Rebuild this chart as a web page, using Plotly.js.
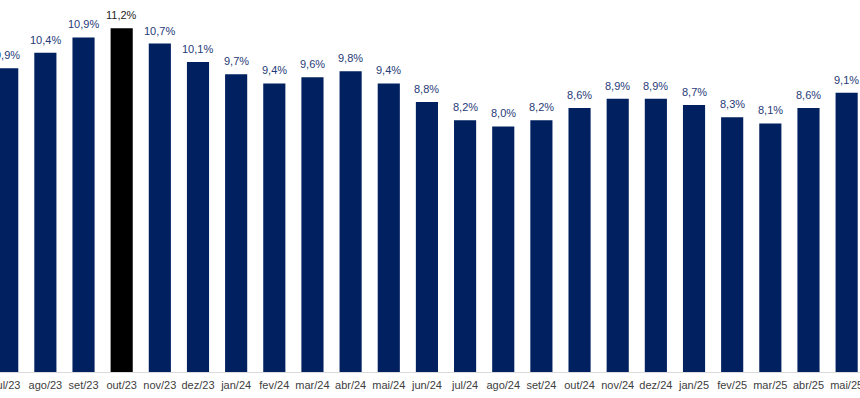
<!DOCTYPE html>
<html>
<head>
<meta charset="utf-8">
<script src="https://cdn.plot.ly/plotly-3.0.1.min.js"></script>
<style>html,body{margin:0;padding:0;background:#fff;}#chart{width:860px;height:398px;}</style>
</head>
<body>
<div id="chart"></div>
<script>
const categories = ["jul/23","ago/23","set/23","out/23","nov/23","dez/23","jan/24","fev/24","mar/24","abr/24","mai/24","jun/24","jul/24","ago/24","set/24","out/24","nov/24","dez/24","jan/25","fev/25","mar/25","abr/25","mai/25"];
const values = [9.9,10.4,10.9,11.2,10.7,10.1,9.7,9.4,9.6,9.8,9.4,8.8,8.2,8.0,8.2,8.6,8.9,8.9,8.7,8.3,8.1,8.6,9.1];
const highlight = "out/23";

const navy = "#002060";
const colors = categories.map(c => c === highlight ? "#000000" : navy);
const labelColors = categories.map(c => c === highlight ? "#262626" : "#1F3A78");

const annotations = categories.map((c, i) => ({
  x: c, y: values[i], xref: "x", yref: "y",
  text: values[i].toFixed(1).replace(".", ",") + "%",
  showarrow: false, yanchor: "bottom", yshift: 5,
  font: {family: "Liberation Sans, Arial, sans-serif", size: 11, color: labelColors[i]}
}));

Plotly.newPlot("chart", [{
  type: "bar", x: categories, y: values,
  marker: {color: colors, line: {width: 0}},
  hoverinfo: "skip"
}], {
  width: 860, height: 398,
  margin: {l: 0, r: 0, t: 0, b: 26},
  paper_bgcolor: "#fff", plot_bgcolor: "#fff",
  bargap: 0.42,
  showlegend: false,
  xaxis: {
    type: "category", range: [-0.189, 22.35],
    showgrid: false, zeroline: false,
    showline: true, linecolor: "#D9D9D9", linewidth: 1,
    ticks: "", ticklabelstandoff: 3,
    tickfont: {family: "Liberation Sans, Arial, sans-serif", size: 11, color: "#404040"},
    fixedrange: true
  },
  yaxis: {range: [0, 12.12], visible: false, showgrid: false, zeroline: false, fixedrange: true},
  annotations: annotations
}, {staticPlot: true});
</script>
</body>
</html>
